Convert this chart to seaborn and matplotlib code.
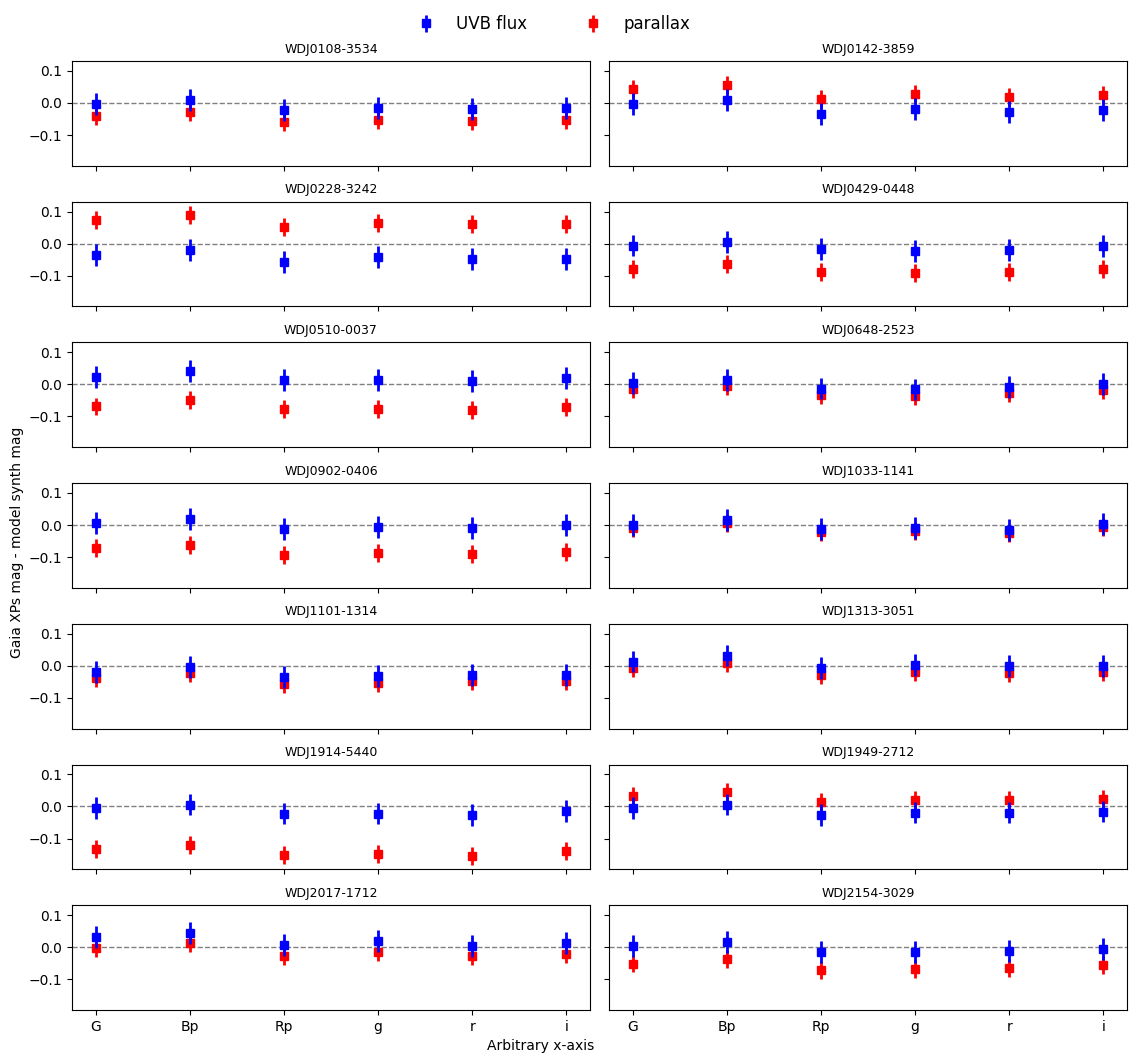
import numpy as np
import matplotlib
matplotlib.use("Agg")
import matplotlib.pyplot as plt
import seaborn as sns

bands = ["G", "Bp", "Rp", "g", "r", "i"]
stars = ["WDJ0108-3534", "WDJ0142-3859", "WDJ0228-3242", "WDJ0429-0448",
         "WDJ0510-0037", "WDJ0648-2523", "WDJ0902-0406", "WDJ1033-1141",
         "WDJ1101-1314", "WDJ1313-3051", "WDJ1914-5440", "WDJ1949-2712",
         "WDJ2017-1712", "WDJ2154-3029"]

uvb_flux = [
    [-0.003, 0.010, -0.021, -0.016, -0.018, -0.016],
    [-0.003, 0.010, -0.034, -0.019, -0.028, -0.021],
    [-0.035, -0.019, -0.057, -0.041, -0.047, -0.047],
    [-0.006, 0.006, -0.016, -0.022, -0.019, -0.008],
    [0.022, 0.041, 0.013, 0.013, 0.010, 0.019],
    [0.003, 0.013, -0.013, -0.016, -0.009, 0.000],
    [0.006, 0.019, -0.012, -0.006, -0.010, 0.000],
    [0.000, 0.016, -0.013, -0.010, -0.016, 0.003],
    [-0.019, -0.003, -0.035, -0.032, -0.029, -0.029],
    [0.013, 0.032, -0.006, 0.003, 0.000, 0.000],
    [-0.006, 0.006, -0.022, -0.022, -0.026, -0.013],
    [-0.006, 0.006, -0.026, -0.019, -0.019, -0.016],
    [0.032, 0.045, 0.006, 0.019, 0.003, 0.013],
    [0.003, 0.016, -0.016, -0.016, -0.013, -0.006],
]
parallax = [
    [-0.041, -0.029, -0.060, -0.054, -0.057, -0.054],
    [0.044, 0.057, 0.013, 0.029, 0.019, 0.025],
    [0.073, 0.088, 0.051, 0.063, 0.060, 0.060],
    [-0.079, -0.063, -0.088, -0.092, -0.088, -0.079],
    [-0.069, -0.050, -0.078, -0.078, -0.081, -0.072],
    [-0.015, -0.005, -0.032, -0.035, -0.027, -0.018],
    [-0.073, -0.061, -0.092, -0.086, -0.089, -0.083],
    [-0.010, 0.006, -0.022, -0.019, -0.025, -0.006],
    [-0.038, -0.022, -0.057, -0.054, -0.048, -0.048],
    [-0.006, 0.010, -0.028, -0.019, -0.022, -0.019],
    [-0.134, -0.121, -0.150, -0.147, -0.153, -0.140],
    [0.032, 0.045, 0.013, 0.019, 0.019, 0.022],
    [-0.003, 0.013, -0.029, -0.016, -0.029, -0.022],
    [-0.051, -0.038, -0.070, -0.067, -0.064, -0.057],
]
uvb_err = [0.034, 0.034, 0.034, 0.034, 0.034, 0.034]
plx_err = [0.028, 0.028, 0.028, 0.028, 0.028, 0.028]

sns.set_theme(style="ticks", rc={"axes.grid": False})
plt.rcParams.update(matplotlib.rcParamsDefault)
plt.rcParams["font.family"] = ["DejaVu Sans"]

fig, axes = plt.subplots(7, 2, figsize=(11.38, 10.59), dpi=100, sharex=True, sharey=True)
x = np.arange(len(bands))
for k, ax in enumerate(axes.flat):
    ax.errorbar(x, uvb_flux[k], yerr=uvb_err, fmt="s", color="blue", ecolor="blue",
                elinewidth=2, markersize=6, label="UVB flux", zorder=3)
    ax.errorbar(x, parallax[k], yerr=plx_err, fmt="s", color="red", ecolor="red",
                elinewidth=2, markersize=6, label="parallax", zorder=2)
    ax.axhline(0, color="gray", ls="--", lw=1, zorder=1)
    ax.set_title(stars[k], fontsize=9)
axes[0, 0].set_xticks(x)
axes[0, 0].set_xticklabels(bands)
for ax in axes[-1]:
    ax.tick_params(axis="x", labelsize=10)

fig.subplots_adjust(left=0.0633, right=0.9903, top=0.9424, bottom=0.0463,
                    wspace=0.037, hspace=0.343)
handles, labels = axes[0, 0].get_legend_handles_labels()
fig.legend(handles, labels, loc="upper center", ncol=2, frameon=False,
           fontsize=12, bbox_to_anchor=(0.483, 1.0), columnspacing=3)
fig.text(0.015, 0.488, "Gaia XPs mag - model synth mag", rotation=90,
         ha="center", va="center", fontsize=10)
fig.text(0.475, 0.006, "Arbitrary x-axis", ha="center", va="bottom", fontsize=10)
fig.savefig("out.png", dpi=100)
